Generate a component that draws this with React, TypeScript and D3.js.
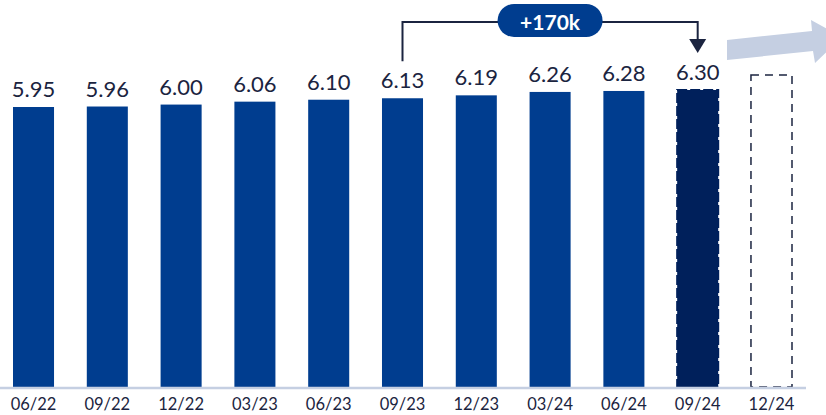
import React from "react";
import * as d3 from "d3";

const categories = ["06/22", "09/22", "12/22", "03/23", "06/23", "09/23", "12/23", "03/24", "06/24", "09/24", "12/24"];
const values: (number | null)[] = [5.95, 5.96, 6.0, 6.06, 6.1, 6.13, 6.19, 6.26, 6.28, 6.3, null];
const valueLabels = ["5.95", "5.96", "6.00", "6.06", "6.10", "6.13", "6.19", "6.26", "6.28", "6.30", ""];
const placeholderValue = 6.61;
const highlightIndex = 9;
const placeholderIndex = 10;
const annotationFrom = 5;
const annotationTo = 9;
const annotationText = "+170k";

const W = 826;
const H = 415;
const BLUE = "#003d8f";
const NAVY = "#00205b";
const TEXT = "#1b2440";
const LIGHT = "#c5cfe2";

export default function App() {
  const x = d3.scaleBand<string>().domain(categories).range([13, 792]).paddingInner(0.444).paddingOuter(0);
  const baseY = 387;
  const y = d3.scaleLinear().domain([0.185, 6.3]).range([baseY, 90]);
  const bw = x.bandwidth();
  const cx = (i: number) => (x(categories[i]) as number) + bw / 2;

  const x1 = cx(annotationFrom);
  const x2 = cx(annotationTo);
  const lineY = 22;
  const pillW = 105;
  const pillH = 33;
  const pillCx = (x1 + x2) / 2;

  return (
    <svg width={W} height={H} style={{ position: "absolute", left: 0, top: 0 }}>
      <rect x={0} y={0} width={W} height={H} fill="#fff" />
      {/* gray arrow */}
      <polygon points="727,40 812,31 811,20 842,37 815,63 813,51 727,60" fill={LIGHT} />
      {/* bars */}
      {categories.map((c, i) => {
        const v = values[i];
        const bx = x(c) as number;
        if (i === placeholderIndex) {
          const top = y(placeholderValue);
          return (
            <rect key={c} x={bx} y={top} width={bw} height={baseY - top} fill="none" stroke={TEXT}
              strokeWidth={1.5} strokeDasharray="8,6" />
          );
        }
        const top = y(v as number);
        const hl = i === highlightIndex;
        return (
          <g key={c}>
            <rect x={bx} y={top} width={bw} height={baseY - top} fill={hl ? NAVY : BLUE}
              stroke={hl ? NAVY : "none"} strokeWidth={hl ? 2 : 0} strokeDasharray={hl ? "10,3" : undefined} />
            <text x={bx + bw / 2} y={top - 10} textAnchor="middle" fontFamily="Lato, sans-serif" fontSize={22}
              fill={TEXT}>{valueLabels[i]}</text>
          </g>
        );
      })}
      {/* baseline */}
      <line x1={0} x2={806} y1={baseY + 1} y2={baseY + 1} stroke={LIGHT} strokeWidth={2.5} />
      {/* axis labels */}
      {categories.map((c, i) => (
        <text key={c} x={cx(i)} y={410} textAnchor="middle" fontFamily="Lato, sans-serif"
          fontSize={16.5} fill={TEXT}>{c}</text>
      ))}
      {/* annotation bracket */}
      <path d={`M${x1},${y(values[annotationFrom] as number) - 37}V${lineY}H${x2}V40`} fill="none" stroke={TEXT} strokeWidth={2} />
      <polygon points={`${x2 - 8.5},39 ${x2 + 8.5},39 ${x2},53`} fill={TEXT} />
      <rect x={pillCx - pillW / 2} y={4} width={pillW} height={pillH} rx={pillH / 2} fill={BLUE} />
      <text x={pillCx} y={lineY + 7.5} textAnchor="middle" fontFamily="Lato, sans-serif" fontWeight={700} fontSize={21}
        fill="#fff">{annotationText}</text>
    </svg>
  );
}
